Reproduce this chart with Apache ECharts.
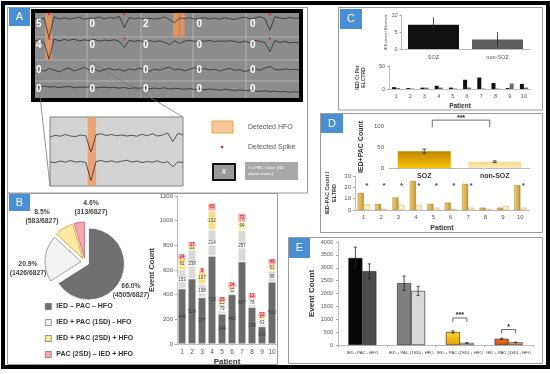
<!DOCTYPE html>
<html><head><meta charset="utf-8">
<script src="https://cdn.jsdelivr.net/npm/echarts/dist/echarts.min.js"></script>
<style>html,body{margin:0;padding:0;background:#fff}#c{width:550px;height:374px}</style>
</head><body><div id="c"></div>
<script>
// ---------- Panel A (illustrative EEG) ----------
const eegNumbers = [[5,0,2,0,0],[4,0,0,0,0],[0,0,0,0,0],[0,0,0,0,0]];
const eegRow1 = [0.6,-0.2,1.0,-10.5,1.8,0.4,1.2,0.5,0.9,1.6,0.3,1.1,0.8,1.7,0.6,1.3,0.9,2.0,-4.5,1.4,0.6,1.2,0.4,1.0,0.5,0.8,1.6,0.2,-1.6,1.1,0.7,1.3,0.4,0.9,1.2,0.5,1.0,0.4,1.3,0.7,0.2,1.0,1.5,0.6,1.1,1.9,0.8,-6.0,1.8,1.1,0.7,1.4,0.9,1.2];
const eegRow2 = [0.4,1.1,-0.6,-11.5,1.6,0.5,1.3,0.8,1.6,0.4,1.1,0.7,1.4,0.3,1.0,0.6,1.2,0.1,-3.8,0.9,0.1,0.8,-0.5,0.6,0.0,0.5,-0.4,-2.0,0.6,-1.3,0.3,0.8,0.1,0.5,0.2,0.7,0.0,0.4,0.2,0.6,0.1,-0.7,0.3,-0.9,0.8,0.2,-0.6,-6.5,0.7,-0.6,0.2,-0.9,-0.5,-1.1];
const eegRow3 = [0.0,0.6,-0.3,0.8,0.2,-0.5,0.4,0.9,-0.2,0.5,1.2,0.3,0.7,-0.4,0.3,0.8,0.1,0.5,-0.2,0.6,0.2,0.9,0.4,-0.3,0.5,0.1,0.8,1.3,0.2,0.6,-0.1,0.4,1.1,0.3,0.7,0.2,0.5,-0.2,0.4,0.8,0.1,0.3,-0.4,0.2,0.6,0.1,0.9,1.6,0.4,0.2,0.6,0.3,0.5,0.1];
const eegRow4 = [0.8,0.4,0.9,0.5,0.7,0.3,0.6,0.8,0.2,0.5,0.4,0.6,0.1,0.3,0.5,0.2,0.4,0.1,0.3,-0.1,0.2,0.0,0.3,-0.2,0.1,-0.1,0.2,-0.3,0.0,-0.2,-0.4,-0.1,-0.5,-0.2,-0.6,-0.3,-0.5,-0.8,-0.4,-0.7,-0.9,-0.6,-1.0,-0.8,-1.1,-1.3,-1.0,-1.4,-1.2,-1.5,-1.3,-1.6,-1.4,-1.7];
const insetTrace1 = [0.0,0.7,0.3,1.0,0.4,0.2,0.8,0.5,-6.2,0.9,1.3,0.6,1.0,0.5,0.8,0.4,0.7,0.3,1.1,0.5,1.3,0.4,0.8,1.6,-1.8,1.4,0.9];
const insetTrace2 = [0.5,0.1,0.8,0.3,1.0,0.4,0.6,0.2,-7.0,0.6,1.0,0.4,0.9,0.3,0.7,1.1,0.4,0.8,0.2,0.6,0.3,0.9,0.1,0.5,-1.5,0.4,0.2];
const hfoRow1 = [[2.2,3.6],[27.7,28.9],[29.1,30.0]];
const hfoRow2 = [[2.2,3.6]];
const hfoInset = [[7.4,9.0]];
const spikeIdx = [3,18,47];

// ---------- Panel B ----------
const pieNames = ['IED – PAC – HFO','IED + PAC (1SD) - HFO','IED + PAC (2SD) + HFO','PAC (2SD) – IED + HFO'];
const pieValues = [4505,1426,583,313];
const pieTotal = 6827;
const patients = ['1','2','3','4','5','6','7','8','9','10'];
const bDark   = [448,529,377,713,244,402,667,299,142,503];
const bLight  = [153,238,108,214,79,52,257,78,63,88];
const bYellow = [91,23,107,152,25,12,64,8,24,51];
const bPink   = [24,37,9,63,25,24,72,12,22,49];

// ---------- Panel C ----------
const groups = ['SOZ','non-SOZ'];
const cMean = [7.1,2.8];
const cErr = [2.2,2.2];
const cSoz = [4,2,3,7,3,20,25,13,2,11];
const cNon = [2,1,3,3,1,3,1,1,12,3];

// ---------- Panel D ----------
const dMean = [40,15];
const dErr = [5,2];
const dSoz = [15,5.3,11,25.6,5.3,6.5,23,2,2,22];
const dNon = [5,1,4.5,4.5,2,1,2,1,3.5,2];
const dStarPatients = [1,2,3,4,5,6,7,10];
const dStarLevel = 22;
const dSig = [[0,1,114,97]];
const dSigText = ['***'];

// ---------- Panel E ----------
const eCats = ['IED - PAC - HFO','IED + PAC (1SD) - HFO','IED + PAC (2SD) + HFO','IED + PAC (1SD) - HFO'];
const eFirst = [3380,2400,505,240];
const eFirstErr = [420,280,45,25];
const eSecond = [2870,2100,80,100];
const eSecondErr = [280,180,12,12];
const eSig = [[2,2,1050,890],[3,3,600,450]];
const eSigText = ['***','*'];

const FONT = '"Liberation Sans", Arial, sans-serif';
const chart = echarts.init(document.getElementById('c'), null, {width:550, height:374});

function lg(c1, c2, horiz){ return {type:'linear', x:0, y:0, x2:horiz?1:0, y2:horiz?0:1, colorStops:[{offset:0,color:c1},{offset:1,color:c2}]}; }
const plain = v => String(v);

function errorBar(offset, cap){
  return function(params, api){
    const c = api.value(0), m = api.value(1), e = api.value(2);
    const t = api.coord([c, m+e]), b = api.coord([c, Math.max(0,m-e)]);
    const x = t[0] + offset;
    const st = {stroke:'#222', lineWidth:0.8};
    const ch = [{type:'line', shape:{x1:x,y1:t[1],x2:x,y2:b[1]}, style:st}];
    if (cap) {
      ch.push({type:'line', shape:{x1:x-cap,y1:t[1],x2:x+cap,y2:t[1]}, style:st});
      ch.push({type:'line', shape:{x1:x-cap,y1:b[1],x2:x+cap,y2:b[1]}, style:st});
    }
    return {type:'group', children:ch};
  };
}
function bracket(o1, o2, texts){
  return function(params, api){
    const a = api.coord([api.value(0), api.value(2)]);
    const b = api.coord([api.value(1), api.value(2)]);
    const l = api.coord([api.value(0), api.value(3)]);
    const x1 = a[0]+o1, x2 = b[0]+o2, y = a[1], y2 = l[1];
    return {type:'group', children:[
      {type:'polyline', shape:{points:[[x1,y2],[x1,y],[x2,y],[x2,y2]]}, style:{stroke:'#444', fill:null, lineWidth:0.8}},
      {type:'text', style:{text:texts[params.dataIndex], x:(x1+x2)/2, y:y+1, align:'center', verticalAlign:'bottom', fontSize:7, fontWeight:'bold', fill:'#222', fontFamily:FONT}}
    ]};
  };
}

const grids = [
  {left:34, top:13, width:266, height:24},
  {left:34, top:37, width:266, height:23},
  {left:34, top:60, width:266, height:21},
  {left:34, top:81, width:266, height:17},
  {left:50, top:117, width:133, height:34.5},
  {left:50, top:151.5, width:133, height:34.5},
  {left:177, top:196, width:100, height:148},
  {left:401.5, top:15, width:128, height:34},
  {left:389, top:66, width:142, height:23},
  {left:389, top:126, width:141, height:42},
  {left:355, top:176, width:174, height:34},
  {left:338, top:242, width:195, height:103}
];
const hiddenRanges = [[-10,4],[-12,3],[-4,4],[-4,3],[-5.8,8],[-9.2,4.6]];
const xAxes = [], yAxes = [];
const traces = [eegRow1, eegRow2, eegRow3, eegRow4, insetTrace1, insetTrace2];
for (let i=0;i<6;i++){
  xAxes.push({gridIndex:i, type:'value', min:0, max:traces[i].length-1, show:false});
  yAxes.push({gridIndex:i, type:'value', min:hiddenRanges[i][0], max:hiddenRanges[i][1], show:false});
}
const axLine = {show:true, lineStyle:{color:'#aaa', width:0.8}};
const axLbl = (fs)=>({fontSize:fs, color:'#555', fontFamily:FONT, formatter:plain});
// B
xAxes.push({gridIndex:6, type:'category', data:patients, axisLine:axLine, axisTick:{show:false}, axisLabel:Object.assign(axLbl(6.5),{margin:5, interval:0}),
  name:'Patient', nameLocation:'middle', nameGap:14, nameTextStyle:{fontSize:8, fontWeight:'bold', color:'#333', fontFamily:FONT}});
yAxes.push({gridIndex:6, type:'value', min:0, max:1200, interval:200, axisLine:axLine, axisTick:{show:true, length:2, lineStyle:{color:'#aaa'}}, splitLine:{show:false},
  axisLabel:Object.assign(axLbl(6),{margin:4}), name:'Event Count', nameLocation:'middle', nameGap:21, nameTextStyle:{fontSize:7.5, fontWeight:'bold', color:'#333', fontFamily:FONT}});
// C upper
xAxes.push({gridIndex:7, type:'category', data:groups, axisLine:axLine, axisTick:{show:false}, axisLabel:Object.assign(axLbl(5.5),{margin:5})});
yAxes.push({gridIndex:7, type:'value', min:0, max:10, interval:5, axisLine:axLine, axisTick:{show:true,length:2}, splitLine:{show:false}, axisLabel:Object.assign(axLbl(5.5),{margin:4}),
  name:'IED count / Electrode', nameLocation:'middle', nameGap:14, nameTextStyle:{fontSize:3.8, color:'#444', fontFamily:FONT}});
// C lower
xAxes.push({gridIndex:8, type:'category', data:patients, axisLine:axLine, axisTick:{show:false}, axisLabel:Object.assign(axLbl(5.5),{margin:4, interval:0}),
  name:'Patient', nameLocation:'middle', nameGap:14, nameTextStyle:{fontSize:6.5, fontWeight:'bold', color:'#333', fontFamily:FONT}});
yAxes.push({gridIndex:8, type:'value', min:0, max:50, interval:50, axisLine:axLine, axisTick:{show:true,length:2}, splitLine:{show:false}, axisLabel:Object.assign(axLbl(5.5),{margin:4}),
  name:'IED Ct Per\nELCTRD', nameLocation:'middle', nameGap:22, nameTextStyle:{fontSize:5, fontWeight:'bold', color:'#444', lineHeight:6, fontFamily:FONT}});
// D upper
xAxes.push({gridIndex:9, type:'category', data:groups, axisLine:axLine, axisTick:{show:false}, axisLabel:{fontSize:7, fontWeight:'bold', color:'#333', margin:5, fontFamily:FONT}});
yAxes.push({gridIndex:9, type:'value', min:0, max:100, interval:50, axisLine:{show:false}, axisTick:{show:false}, splitLine:{show:false}, axisLabel:Object.assign(axLbl(6),{margin:5}),
  name:'IED+PAC Count', nameLocation:'middle', nameGap:24, nameTextStyle:{fontSize:7, fontWeight:'bold', color:'#333', fontFamily:FONT}});
// D lower
xAxes.push({gridIndex:10, type:'category', data:patients, axisLine:axLine, axisTick:{show:false}, axisLabel:Object.assign(axLbl(6),{margin:4, interval:0}),
  name:'Patient', nameLocation:'middle', nameGap:15, nameTextStyle:{fontSize:7, fontWeight:'bold', color:'#333', fontFamily:FONT}});
yAxes.push({gridIndex:10, type:'value', min:0, max:30, interval:10, axisLine:axLine, axisTick:{show:true,length:2}, splitLine:{show:false}, axisLabel:Object.assign(axLbl(6),{margin:4}),
  name:'IED-PAC Count /\nELTRD', nameLocation:'middle', nameGap:17, nameTextStyle:{fontSize:5.5, fontWeight:'bold', color:'#444', lineHeight:7, fontFamily:FONT}});
// E
xAxes.push({gridIndex:11, type:'category', data:eCats, axisLine:axLine, axisTick:{show:true, length:2, lineStyle:{color:'#aaa'}}, axisLabel:{fontSize:4.2, color:'#333', margin:6, interval:0, fontFamily:FONT}});
yAxes.push({gridIndex:11, type:'value', min:0, max:4000, interval:500, axisLine:axLine, axisTick:{show:true,length:2}, splitLine:{show:false}, axisLabel:Object.assign(axLbl(5.5),{margin:5}),
  name:'Event Count', nameLocation:'middle', nameGap:22, nameTextStyle:{fontSize:8, fontWeight:'bold', color:'#333', fontFamily:FONT}});

const series = [];
const hfoSets = [hfoRow1, hfoRow2, null, null, hfoInset, hfoInset];
traces.forEach((arr,i)=>{
  const s = {type:'line', xAxisIndex:i, yAxisIndex:i, data:arr.map((v,j)=>[j,v]), symbol:'none', silent:true,
    lineStyle:{color:'#1c1c1c', width:0.7}, z:3};
  if (hfoSets[i]) s.markArea = {silent:true, itemStyle:{color:'rgba(242,150,90,0.78)'}, data:hfoSets[i].map(b=>[{xAxis:b[0]},{xAxis:b[1]}])};
  series.push(s);
});
series.push({type:'scatter', xAxisIndex:0, yAxisIndex:0, data:spikeIdx.map(x=>[x,3.2]), symbolSize:2.5, itemStyle:{color:'#e02525'}, silent:true, z:4});
series.push({type:'scatter', xAxisIndex:1, yAxisIndex:1, data:spikeIdx.map(x=>[x,2.0]), symbolSize:2.5, itemStyle:{color:'#e02525'}, silent:true, z:4});

// Pie
const pieColors = ['#707070','#f3f3f3','#fde8a0','#f4a9b0'];
const pieBorders = ['#ffffff','#8a8a8a','#c9a040','#c06070'];
series.push({type:'pie', center:[85,262], radius:[0,36], startAngle:90, clockwise:true, selectedMode:'multiple', selectedOffset:4,
  data:pieNames.map((n,i)=>({name:n, value:pieValues[i], selected:true, itemStyle:{color:pieColors[i], borderColor:pieBorders[i], borderWidth:0.8}})),
  label:{show:false}, labelLine:{show:false},
  emphasis:{disabled:true}, silent:true});

// B stacked bars
const bSets = [
  {d:bDark, c:'#6b6b6b', lbl:{color:'#3c3c3c'}},
  {d:bLight, c:'#d9d9d9', lbl:{color:'#333', backgroundColor:'#fff', padding:[0,1]}},
  {d:bYellow, c:'#f6de84', lbl:{color:'#333', backgroundColor:'#fff3b8', padding:[0,1]}},
  {d:bPink, c:'#f2a2a2', lbl:{color:'#c00000', backgroundColor:'#f7b5b5', padding:[0,1]}}
];
bSets.forEach((s,k)=>series.push({type:'bar', name:'b'+k, xAxisIndex:6, yAxisIndex:6, stack:'B', barWidth:8, data:s.d,
  itemStyle:{color:s.c, borderColor:'#fff', borderWidth:0.5},
  label:Object.assign({show:true, position:'inside', fontSize:4.5, fontFamily:FONT}, s.lbl), silent:true}));

// C
series.push({type:'bar', xAxisIndex:7, yAxisIndex:7, barWidth:51, data:cMean.map((v,i)=>({value:v, itemStyle:{color:['#111111','#5e5e5e'][i]}})), silent:true});
series.push({type:'custom', xAxisIndex:7, yAxisIndex:7, renderItem:errorBar(0,0), data:cMean.map((m,i)=>[i,m,cErr[i]]), clip:false, z:5, silent:true});
series.push({type:'bar', xAxisIndex:8, yAxisIndex:8, barWidth:4, barGap:'0%', data:cSoz, itemStyle:{color:'#111'}, silent:true});
series.push({type:'bar', xAxisIndex:8, yAxisIndex:8, barWidth:4, barGap:'0%', data:cNon, itemStyle:{color:'#6a6a6a'}, silent:true});

// D
series.push({type:'bar', xAxisIndex:9, yAxisIndex:9, barWidth:53, data:dMean.map((v,i)=>({value:v, itemStyle:{color:[lg('#c08400','#f8c400'), lg('#f6d98e','#fbe9b8')][i]}})), silent:true});
series.push({type:'custom', xAxisIndex:9, yAxisIndex:9, renderItem:errorBar(0,2), data:dMean.map((m,i)=>[i,m,dErr[i]]), clip:false, z:5, silent:true});
series.push({type:'custom', xAxisIndex:9, yAxisIndex:9, renderItem:bracket(8,-5,dSigText), data:dSig, clip:false, z:5, silent:true});
series.push({type:'bar', xAxisIndex:10, yAxisIndex:10, barWidth:6, barGap:'0%', data:dSoz, itemStyle:{color:lg('#f2d27a','#c4962c',true), borderColor:'#8a6a18', borderWidth:0.4}, silent:true});
series.push({type:'bar', xAxisIndex:10, yAxisIndex:10, barWidth:6, barGap:'0%', data:dNon, itemStyle:{color:'#fbeec2', borderColor:'#b8a060', borderWidth:0.4}, silent:true});
series.push({type:'scatter', xAxisIndex:10, yAxisIndex:10, symbolSize:0, data:dStarPatients.map(p=>[p-1,dStarLevel]),
  label:{show:true, formatter:'*', position:'inside', offset:[3,1], fontSize:8, fontWeight:'bold', color:'#111', fontFamily:FONT}, silent:true, z:6});

// E
const eFirstColors = ['#060606','#7f7f7f', lg('#ffd23a','#e8a000'), lg('#f07020','#d84c0a')];
const eSecondColors = ['#4c4c4c','#d9d9d9','#fdf0c8','#f4a264'];
series.push({type:'bar', xAxisIndex:11, yAxisIndex:11, barWidth:14, barGap:'0%', data:eFirst.map((v,i)=>({value:v, itemStyle:{color:eFirstColors[i], borderColor:'#222', borderWidth:0.6}})), silent:true});
series.push({type:'bar', xAxisIndex:11, yAxisIndex:11, barWidth:14, barGap:'0%', data:eSecond.map((v,i)=>({value:v, itemStyle:{color:eSecondColors[i], borderColor:'#222', borderWidth:0.6}})), silent:true});
series.push({type:'custom', xAxisIndex:11, yAxisIndex:11, renderItem:errorBar(-7,1.5), data:eFirst.map((m,i)=>[i,m,eFirstErr[i]]), clip:false, z:5, silent:true});
series.push({type:'custom', xAxisIndex:11, yAxisIndex:11, renderItem:errorBar(7,1.5), data:eSecond.map((m,i)=>[i,m,eSecondErr[i]]), clip:false, z:5, silent:true});
series.push({type:'custom', xAxisIndex:11, yAxisIndex:11, renderItem:bracket(-7,7,eSigText), data:eSig, clip:false, z:5, silent:true});

// ---------- graphic (frames, labels, panel A decorations) ----------
const g = [];
const frame = (x,y,w,h)=>({type:'rect', shape:{x,y,width:w,height:h}, style:{fill:null, stroke:'#9a9a9a', lineWidth:1}, z:-10});
g.push(frame(7.5,7.5,300,185.5), frame(7.5,193.5,270,171), frame(338.5,7.5,204,102.5), frame(320.5,113.5,222,119), frame(288.5,237.5,254,126));
g.push({type:'rect', shape:{x:3,y:3,width:545,height:364}, style:{fill:null, stroke:'#000', lineWidth:4}, z:50});
const panelLabel = (t,x,y,w,h)=>({type:'group', z:60, children:[
  {type:'rect', shape:{x,y,width:w,height:h}, style:{fill:'#4a8fd4'}},
  {type:'text', style:{text:t, x:x+w/2, y:y+h/2, align:'center', verticalAlign:'middle', fontSize:11, fill:'#fff', fontFamily:FONT}}]});
g.push(panelLabel('A',9,8,21,18), panelLabel('B',9,194,21,17), panelLabel('C',340,9,22,20), panelLabel('D',321,114,22,19), panelLabel('E',289,238,21,20));
// pie slice labels (text computed from the data)
const pieLabelPos = [[131,291],[28,269],[42,217],[91,208]];
pieValues.forEach((v,i)=>g.push({type:'text', z:30, style:{text:(v/pieTotal*100).toFixed(1)+'%\n('+v+'/'+pieTotal+')', x:pieLabelPos[i][0], y:pieLabelPos[i][1],
  align:'center', verticalAlign:'middle', fontSize:6.8, lineHeight:9, fontWeight:'bold', fill:'#444', fontFamily:FONT}}));
// EEG box
g.push({type:'rect', shape:{x:33,y:11,width:268,height:89}, style:{fill:'#8c8c8c', stroke:'#000', lineWidth:4}, z:-5});
[37,60,81].forEach(y=>g.push({type:'line', shape:{x1:35,y1:y,x2:299,y2:y}, style:{stroke:'#bdbdbd', lineWidth:0.8}, z:-4}));
[87,141,193,246].forEach(x=>g.push({type:'line', shape:{x1:x,y1:13,x2:x,y2:98}, style:{stroke:'#bdbdbd', lineWidth:0.8}, z:-4}));
const rowY = [24,45,70,89];
eegNumbers.forEach((row,r)=>row.forEach((n,c)=>g.push({type:'text', z:40, style:{text:String(n), x:36+c*53.5, y:rowY[r], verticalAlign:'middle', fontSize:10, fontWeight:'bold', fill:'#fff', fontFamily:FONT}})));
// zoom lines + inset box
g.push({type:'line', shape:{x1:36,y1:60,x2:50,y2:186}, style:{stroke:'#777', lineWidth:0.8}, z:-3});
g.push({type:'line', shape:{x1:87,y1:60,x2:183,y2:117}, style:{stroke:'#777', lineWidth:0.8}, z:-3});
g.push({type:'rect', shape:{x:50,y:117,width:133,height:69}, style:{fill:'#d3d3d3', stroke:'#808080', lineWidth:1}, z:-5});
// A legend
g.push({type:'rect', shape:{x:212,y:121,width:21,height:12}, style:{fill:'#f9c79a', stroke:'#e3a646', lineWidth:1}});
g.push({type:'text', style:{text:'Detected HFO', x:248, y:127, verticalAlign:'middle', fontSize:7, fill:'#555', fontFamily:FONT}});
g.push({type:'circle', shape:{cx:222,cy:147,r:1.2}, style:{fill:'#d02020'}});
g.push({type:'text', style:{text:'Detected Spike', x:248, y:147, verticalAlign:'middle', fontSize:7, fill:'#555', fontFamily:FONT}});
g.push({type:'rect', shape:{x:213,y:164,width:22,height:16}, style:{fill:'#999', stroke:'#111', lineWidth:2}});
g.push({type:'text', style:{text:'#', x:224, y:172, align:'center', verticalAlign:'middle', fontSize:7, fontWeight:'bold', fill:'#fff', fontFamily:FONT}});
g.push({type:'rect', shape:{x:245,y:162,width:53,height:18}, style:{fill:'#a8a8a8'}});
g.push({type:'text', style:{text:'# = PAC Value (SD\nabove mean)', x:248, y:171, verticalAlign:'middle', fontSize:4.3, lineHeight:5.5, fill:'#fff', fontFamily:FONT}});

chart.setOption({
  animation:false,
  backgroundColor:'#fff',
  textStyle:{fontFamily:FONT},
  grid:grids, xAxis:xAxes, yAxis:yAxes, series:series, graphic:g,
  legend:{data:pieNames, orient:'vertical', left:45, top:303, itemWidth:6, itemHeight:6, itemGap:9, padding:0, icon:'rect', selectedMode:false,
    itemStyle:{borderColor:'#555', borderWidth:0.6},
    textStyle:{fontSize:7, fontWeight:'bold', color:'#333', fontFamily:FONT}}
});
</script></body></html>
